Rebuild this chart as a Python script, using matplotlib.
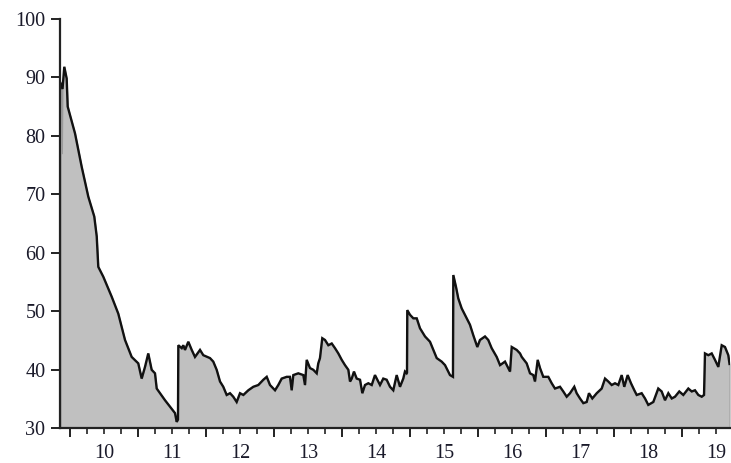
import matplotlib
matplotlib.use("Agg")
import matplotlib.pyplot as plt
from matplotlib.ticker import FixedLocator, FuncFormatter

# time in fractional years (year ticks at boundaries, labels at mid-year)
t_offset = [
    -0.140, -0.125, -0.118, -0.110, -0.084, -0.049, -0.034, 0.074, 0.172, 0.269,
    0.357, 0.393, 0.416, 0.490, 0.613, 0.710, 0.809, 0.907, 1.004, 1.054,
    1.103, 1.151, 1.201, 1.250, 1.275, 1.397, 1.544, 1.569, 1.588, 1.593,
    1.643, 1.666, 1.691, 1.740, 1.790, 1.838, 1.912, 1.960, 2.059, 2.107,
    2.157, 2.206, 2.254, 2.304, 2.353, 2.401, 2.451, 2.500, 2.549, 2.622,
    2.696, 2.769, 2.843, 2.893, 2.941, 3.015, 3.063, 3.113, 3.187, 3.235,
    3.260, 3.284, 3.357, 3.431, 3.456, 3.481, 3.529, 3.578, 3.628, 3.651,
    3.676, 3.710, 3.750, 3.799, 3.849, 3.897, 3.946, 3.996, 4.044, 4.093,
    4.118, 4.143, 4.176, 4.216, 4.265, 4.299, 4.338, 4.387, 4.437, 4.485,
    4.559, 4.607, 4.657, 4.706, 4.754, 4.804, 4.853, 4.901, 4.926, 4.951,
    4.956, 4.960, 5.000, 5.049, 5.099, 5.147, 5.221, 5.294, 5.343, 5.393,
    5.466, 5.515, 5.588, 5.632, 5.637, 5.676, 5.710, 5.760, 5.834, 5.882,
    5.931, 5.990, 6.029, 6.103, 6.151, 6.201, 6.275, 6.324, 6.397, 6.446,
    6.471, 6.496, 6.569, 6.618, 6.643, 6.716, 6.765, 6.813, 6.838, 6.878,
    6.912, 6.960, 7.034, 7.084, 7.132, 7.206, 7.254, 7.304, 7.353, 7.416,
    7.451, 7.500, 7.549, 7.598, 7.632, 7.681, 7.746, 7.819, 7.868, 7.916,
    7.966, 8.015, 8.063, 8.113, 8.151, 8.201, 8.250, 8.299, 8.334, 8.407,
    8.456, 8.504, 8.578, 8.651, 8.701, 8.750, 8.799, 8.849, 8.897, 8.960,
    9.019, 9.093, 9.143, 9.191, 9.240, 9.290, 9.324, 9.338, 9.387, 9.437,
    9.485, 9.534, 9.584, 9.632, 9.681, 9.699,
]
values = [
    89.0, 88.5, 77.0, 88.0, 91.8, 89.8, 85.0, 80.4, 74.7, 69.6,
    66.2, 62.8, 57.6, 55.9, 52.5, 49.6, 45.1, 42.2, 41.1, 38.5,
    40.5, 42.8, 40.0, 39.4, 36.8, 34.8, 32.6, 31.1, 31.5, 44.2,
    43.7, 44.2, 43.4, 44.8, 43.4, 42.2, 43.4, 42.5, 42.0, 41.4,
    40.0, 38.0, 37.1, 35.7, 36.0, 35.4, 34.5, 36.0, 35.7, 36.5,
    37.1, 37.4, 38.3, 38.8, 37.4, 36.5, 37.4, 38.5, 38.8, 38.8,
    36.5, 39.1, 39.4, 39.1, 37.4, 41.7, 40.3, 40.0, 39.4, 41.1,
    42.0, 45.4, 45.1, 44.2, 44.5, 43.7, 42.8, 41.7, 40.8, 40.0,
    38.0, 38.5, 39.7, 38.5, 38.3, 36.0, 37.4, 37.7, 37.4, 39.1,
    37.4, 38.5, 38.3, 37.1, 36.5, 39.1, 37.1, 38.5, 39.7, 39.4,
    39.5, 50.2, 49.4, 48.8, 48.8, 47.1, 45.7, 44.8, 43.4, 42.0,
    41.4, 40.8, 39.1, 38.8, 56.2, 54.2, 52.2, 50.5, 48.8, 47.7,
    45.9, 43.9, 45.1, 45.7, 45.1, 43.7, 42.2, 40.8, 41.4, 40.3,
    39.7, 43.9, 43.4, 42.8, 42.2, 41.1, 39.4, 39.1, 38.0, 41.7,
    40.3, 38.8, 38.8, 37.7, 36.8, 37.1, 36.3, 35.4, 36.0, 37.1,
    36.0, 35.1, 34.3, 34.5, 36.0, 35.1, 36.0, 36.8, 38.5, 38.0,
    37.4, 37.7, 37.4, 39.1, 37.1, 39.1, 37.7, 36.5, 35.7, 36.0,
    35.1, 34.0, 34.5, 36.8, 36.3, 34.8, 36.0, 35.1, 35.4, 36.3,
    35.7, 36.8, 36.3, 36.5, 35.7, 35.4, 35.7, 42.8, 42.5, 42.8,
    41.7, 40.5, 44.2, 43.9, 42.5, 41.0,
]
spike_index = 2  # thin dip at the very start, drawn only by the area edge
base_year = 2010
years = list(range(2010, 2020))
year_labels = [str(y % 100) for y in years]
y_ticks = [30, 40, 50, 60, 70, 80, 90, 100]

t = [base_year + d for d in t_offset]
t_line = [x for i, x in enumerate(t) if i != spike_index]
v_line = [v for i, v in enumerate(values) if i != spike_index]

fig = plt.figure(figsize=(7.31, 4.63), dpi=100)
ax = fig.add_axes([60 / 731, 1 - 428.3 / 463, 670 / 731, 409.5 / 463])

ax.fill_between(t, values, 30, color="#c0c0c0", linewidth=0.7, edgecolor="#9a9a9a")
ax.plot(t_line, v_line, color="#111111", linewidth=1.7, solid_joinstyle="miter")

ax.set_xlim(2009.853, 2019.706)
ax.set_ylim(30, 100)

for s in ["top", "right"]:
    ax.spines[s].set_visible(False)
for s in ["left", "bottom"]:
    ax.spines[s].set_linewidth(1.6)
    ax.spines[s].set_color("#222222")

ax.set_yticks(y_ticks)
ax.set_yticklabels([str(v) for v in y_ticks])

ax.xaxis.set_major_locator(FixedLocator(years))
ax.xaxis.set_major_formatter(FuncFormatter(lambda x, p: ""))
minor = []
for y in years:
    for q in (0.25, 0.5, 0.75):
        if y + q <= 2019.706:
            minor.append(y + q)
ax.xaxis.set_minor_locator(FixedLocator(minor))
lab = dict(zip(years, year_labels))


def minor_fmt(x, p):
    y = int(round(x - 0.5))
    if abs(x - y - 0.5) < 1e-6:
        return lab.get(y, "")
    return ""


ax.xaxis.set_minor_formatter(FuncFormatter(minor_fmt))

font = dict(family="Liberation Serif", size=14.5, color="#1a1a2a")
for lbl in ax.get_yticklabels():
    lbl.set(**font)
for lbl in ax.xaxis.get_ticklabels(minor=True):
    lbl.set(**font)

ax.tick_params(axis="y", direction="out", length=6.5, width=1.4, pad=4, colors="#222222",
               labelcolor="#1a1a2a")
ax.tick_params(axis="x", which="major", direction="out", length=6.5, width=1.4, colors="#222222")
ax.tick_params(axis="x", which="minor", direction="out", length=4.0, width=1.2, pad=7,
               colors="#222222", labelcolor="#1a1a2a")

fig.savefig("out.png", dpi=100)
